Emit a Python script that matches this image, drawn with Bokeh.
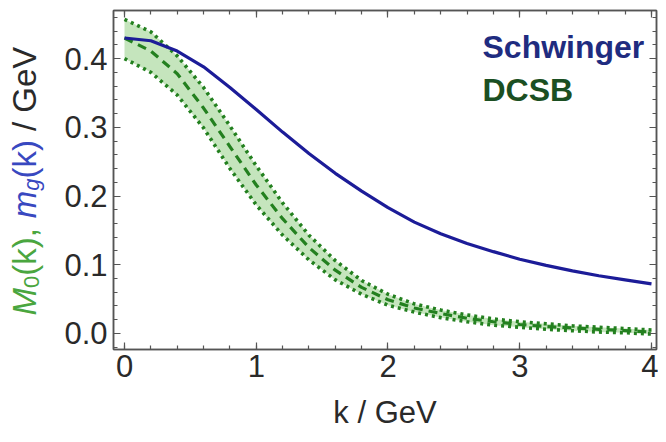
from math import pi
from bokeh.plotting import figure
from bokeh.layouts import row
from bokeh.models import (Range1d, LinearAxis, SingleIntervalTicker, Label, ColumnDataSource,
                          PrintfTickFormatter)
from bokeh.embed import file_html
from bokeh.resources import INLINE

# ---- data ----
k_gev = [0.0, 0.2, 0.4, 0.6, 0.8, 1.0, 1.2, 1.4, 1.6, 1.8, 2.0,
         2.2, 2.4, 2.6, 2.8, 3.0, 3.2, 3.4, 3.6, 3.8, 4.0]
schwinger_mass = [0.430, 0.426, 0.411, 0.388, 0.358, 0.326, 0.293, 0.262, 0.233, 0.207, 0.183,
                  0.162, 0.145, 0.131, 0.119, 0.108, 0.099, 0.091, 0.084, 0.078, 0.072]
dcsb_mass = [0.430, 0.411, 0.378, 0.328, 0.272, 0.216, 0.167, 0.125, 0.092, 0.067, 0.049,
             0.037, 0.029, 0.022, 0.017, 0.013, 0.010, 0.008, 0.006, 0.004, 0.002]
dcsb_upper = [0.457, 0.439, 0.404, 0.358, 0.302, 0.244, 0.190, 0.143, 0.106, 0.077, 0.057,
              0.043, 0.034, 0.027, 0.021, 0.017, 0.014, 0.011, 0.009, 0.007, 0.005]
dcsb_lower = [0.400, 0.380, 0.347, 0.299, 0.240, 0.187, 0.143, 0.107, 0.078, 0.057, 0.041,
              0.031, 0.023, 0.017, 0.012, 0.009, 0.006, 0.004, 0.002, 0.001, -0.001]
legend_labels = ["Schwinger", "DCSB"]
x_label = "k / GeV"

FONT = "Liberation Sans"
AX = "#555555"
BLUE = "#1c1c98"
GREEN = "#23801f"
H = 434
LW = 56

src = ColumnDataSource(dict(k=k_gev, s=schwinger_mass, c=dcsb_mass, up=dcsb_upper, lo=dcsb_lower))

p = figure(width=658 - LW, height=H, output_backend="svg", toolbar_location=None,
           x_range=Range1d(-0.0835, 4.038), y_range=Range1d(-0.0234, 0.470),
           min_border_left=113 - LW, min_border_right=2, min_border_top=10, min_border_bottom=85)
p.xgrid.visible = False
p.ygrid.visible = False
p.outline_line_color = AX
p.outline_line_width = 1.5
p.background_fill_color = "white"
p.border_fill_color = "white"


def style_axis(ax, labels=True):
    ax.axis_line_color = AX
    ax.axis_line_width = 1.5
    ax.major_tick_line_color = AX
    ax.minor_tick_line_color = AX
    ax.major_tick_in = 7
    ax.major_tick_out = 0
    ax.minor_tick_in = 4
    ax.minor_tick_out = 0
    ax.major_tick_line_width = 1.2
    ax.minor_tick_line_width = 1.2
    if labels:
        ax.major_label_text_font = FONT
        ax.major_label_text_font_size = "31px"
        ax.major_label_text_color = "#2a2a2a"
    else:
        ax.major_label_text_font_size = "1px"
        ax.major_label_text_color = None
        ax.major_label_standoff = 0


p.xaxis.ticker = SingleIntervalTicker(interval=1, num_minor_ticks=5)
p.yaxis.ticker = SingleIntervalTicker(interval=0.1, num_minor_ticks=5)
p.yaxis.formatter = PrintfTickFormatter(format="%.1f")
style_axis(p.xaxis[0])
style_axis(p.yaxis[0])
p.xaxis.major_label_standoff = 5
p.yaxis.major_label_standoff = 6
p.xaxis.axis_label = x_label
p.xaxis.axis_label_text_font = FONT
p.xaxis.axis_label_text_font_size = "31px"
p.xaxis.axis_label_text_font_style = "normal"
p.xaxis.axis_label_text_color = "#2a2a2a"
p.xaxis.axis_label_standoff = 15

top = LinearAxis(ticker=SingleIntervalTicker(interval=1, num_minor_ticks=5))
style_axis(top, labels=False)
p.add_layout(top, "above")
right = LinearAxis(ticker=SingleIntervalTicker(interval=0.1, num_minor_ticks=5))
style_axis(right, labels=False)
p.add_layout(right, "right")

# DCSB band
p.varea(x="k", y1="lo", y2="up", source=src, fill_color="#bfe2b6", fill_alpha=0.9)
p.line(x="k", y="up", source=src, line_color=GREEN, line_width=3.6, line_dash="3 4")
p.line(x="k", y="lo", source=src, line_color=GREEN, line_width=3.6, line_dash="3 4")
p.line(x="k", y="c", source=src, line_color=GREEN, line_width=3.2, line_dash="9 6")
# Schwinger
p.line(x="k", y="s", source=src, line_color=BLUE, line_width=3.2)

# legend texts
p.add_layout(Label(x=369, y=303, x_units="screen", y_units="screen", text=legend_labels[0],
                   text_font=FONT, text_font_size="32px", text_font_style="bold",
                   text_color="#1f2c80", text_baseline="alphabetic"))
p.add_layout(Label(x=369, y=260, x_units="screen", y_units="screen", text=legend_labels[1],
                   text_font=FONT, text_font_size="32px", text_font_style="bold",
                   text_color="#1b4f22", text_baseline="alphabetic"))

# y axis title in coloured pieces, on a narrow side figure
lab = figure(width=LW, height=H, output_backend="svg", toolbar_location=None,
             x_axis_location=None, y_axis_location=None, min_border=0,
             x_range=Range1d(0, 1), y_range=Range1d(0, 1))
lab.outline_line_color = None
lab.xgrid.visible = False
lab.ygrid.visible = False
lab.background_fill_color = "white"
lab.border_fill_color = "white"

LG = "#4aa63f"
LB = "#3848c0"
bx = 24
pieces = [
    ("M", LG, "33px", "italic", 0, 27.5),
    ("0", LG, "22px", "normal", 7, 12.2),
    ("(k),", LG, "33px", "normal", 0, 57.5),
    ("m", LB, "33px", "italic", 0, 27.5),
    ("g", LB, "22px", "italic", 7, 12.2),
    ("(k)", LB, "33px", "normal", 0, 47.5),
    ("/ GeV", "#2a2a2a", "33px", "normal", 0, 85.0),
]
yy = 34
for txt, col, fs, style, shift, w in pieces:
    lab.add_layout(Label(x=bx + shift, y=yy, x_units="screen", y_units="screen", text=txt,
                         angle=pi / 2, text_font=FONT, text_font_size=fs, text_font_style=style,
                         text_color=col, text_align="left", text_baseline="alphabetic"))
    yy += w

layout = row(lab, p)
open("out.html", "w").write(file_html(layout, INLINE))
